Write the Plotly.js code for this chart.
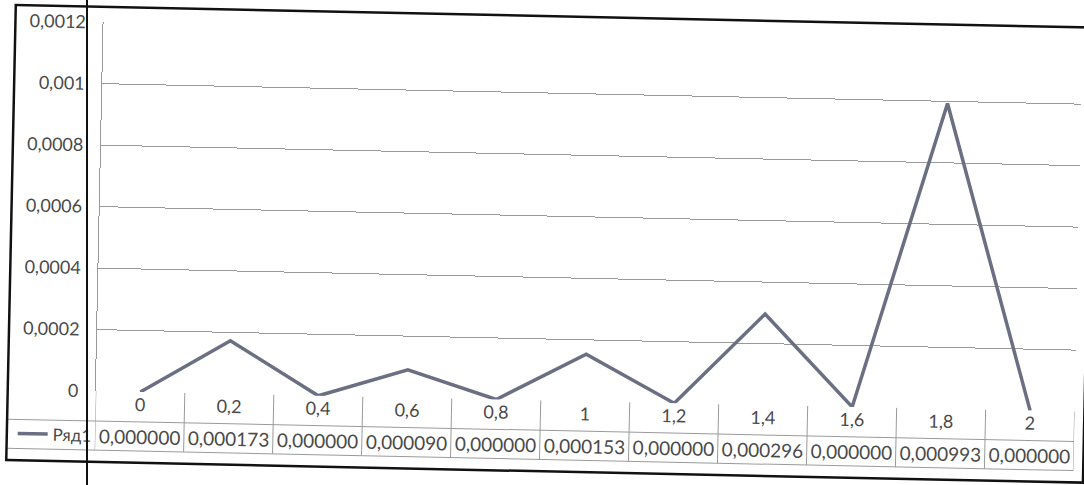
<!DOCTYPE html>
<html>
<head>
<meta charset="utf-8">
<script src="https://cdn.plot.ly/plotly-3.0.1.min.js"></script>
<style>
  html, body { margin: 0; padding: 0; background: #ffffff; overflow: hidden; }
  #wrap { position: absolute; left: 0; top: 0; transform: rotate(1.2deg); transform-origin: 0 0; }
  #rule { position: absolute; left: 86px; top: 0; width: 2px; height: 485px; background: #111; }
</style>
</head>
<body>
<div id="wrap"><div id="chart"></div></div>
<div id="rule"></div>
<script>
// x categories (header row of the data table)
const xLabels = ['0', '0,2', '0,4', '0,6', '0,8', '1', '1,2', '1,4', '1,6', '1,8', '2'];
// series "Ряд1"
const seriesName = 'Ряд1';
const seriesValues = [0, 0.000173, 0, 0.000090, 0, 0.000153, 0, 0.000296, 0, 0.000993, 0];
// y axis
const yMax = 0.0012;
const yStep = 0.0002;

const FONT = 'Lato, "Open Sans", sans-serif';
const TEXT = '#4a4a4a';
const GRID = '#9a9a9a';

// data-table geometry in paper units (below the plot area)
const rowHeaderBottom = -0.081;
const rowValueBottom = -0.160;
const rowValueMid = (rowHeaderBottom + rowValueBottom) / 2;
const frameLeft = -0.090, frameRight = 1.01, frameTop = 1.0415, frameBottom = -0.192;

const shapes = [];
// vertical cell borders of the data table (category positions are indices)
for (let i = 0; i <= xLabels.length; i++) {
  shapes.push({type: 'line', xref: 'x', yref: 'paper', x0: i - 0.5, x1: i - 0.5,
    y0: 0, y1: rowValueBottom, line: {color: GRID, width: 1}});
}
// horizontal borders: header/value separator and bottom, running into the legend cell
shapes.push({type: 'line', xref: 'paper', yref: 'paper', x0: frameLeft, x1: 1,
  y0: rowHeaderBottom, y1: rowHeaderBottom, line: {color: GRID, width: 1}});
shapes.push({type: 'line', xref: 'paper', yref: 'paper', x0: frameLeft, x1: 1,
  y0: rowValueBottom, y1: rowValueBottom, line: {color: GRID, width: 1}});
// chart frame
shapes.push({type: 'rect', xref: 'paper', yref: 'paper', x0: frameLeft, x1: frameRight,
  y0: frameBottom, y1: frameTop, line: {color: '#111', width: 2.5}});

// value row of the data table, one cell per category index
const annotations = seriesValues.map((v, i) => ({
  xref: 'x', yref: 'paper', x: i, y: rowValueMid,
  text: v.toFixed(6).replace('.', ','), showarrow: false,
  xanchor: 'center', yanchor: 'middle',
  font: {family: FONT, size: 19, color: TEXT}
}));

const trace = {
  type: 'scatter', mode: 'lines', name: seriesName,
  x: xLabels, y: seriesValues, cliponaxis: false,
  line: {color: '#6a6f82', width: 3.5}
};

const layout = {
  width: 1100, height: 490,
  margin: {l: 104, r: 17, t: 20, b: 101},
  paper_bgcolor: 'rgba(0,0,0,0)', plot_bgcolor: 'rgba(0,0,0,0)',
  separators: ', ',
  font: {family: FONT, size: 18, color: TEXT},
  showlegend: true,
  legend: {x: -0.084, y: rowValueMid, xanchor: 'left', yanchor: 'middle',
    bgcolor: 'rgba(0,0,0,0)', borderwidth: 0,
    font: {family: FONT, size: 17, color: TEXT}},
  xaxis: {type: 'category', range: [-0.5, xLabels.length - 0.5],
    showgrid: false, zeroline: false, showline: false, ticks: '',
    tickfont: {family: FONT, size: 18, color: TEXT}, fixedrange: true},
  yaxis: {range: [0, yMax], dtick: yStep, tick0: 0,
    showgrid: true, gridcolor: GRID, gridwidth: 1, zeroline: false,
    showline: true, linecolor: GRID, linewidth: 1, ticks: '',
    ticklabelstandoff: 13,
    tickfont: {family: FONT, size: 18, color: TEXT}, fixedrange: true},
  shapes: shapes,
  annotations: annotations
};

Plotly.newPlot('chart', [trace], layout, {displayModeBar: false, staticPlot: true});
</script>
</body>
</html>
